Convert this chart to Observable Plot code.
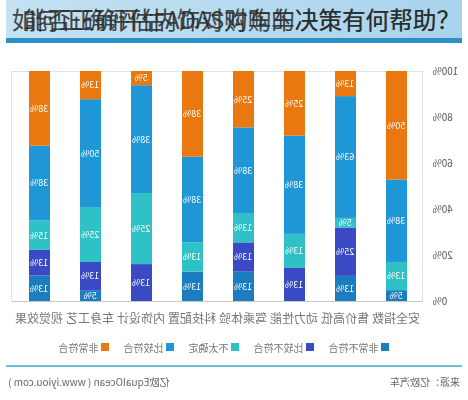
<!DOCTYPE html>
<html>
<head>
<meta charset="utf-8">
<script src="https://cdn.jsdelivr.net/npm/d3@7"></script>
<script src="https://cdn.jsdelivr.net/npm/@observablehq/plot@0.6"></script>
<style>
  body { margin:0; width:468px; height:400px; background:#fff; overflow:hidden;
         font-family:"Noto Sans CJK SC", sans-serif; }
  #title { position:relative; margin:0 6px; height:38px;
           background:linear-gradient(90deg,#c4e2f2,#b4d9ee 60%,#a9d3ec);
           border-bottom:5px solid #2b90c8; overflow:hidden; }
  #title span { position:absolute; top:4px; right:2px; font-size:23.6px; line-height:30px;
                color:#2a2a2a; white-space:nowrap; opacity:0.85; }
  #mirror { transform:scaleX(-1); width:468px; }
  #legend { height:36px; display:flex; justify-content:center; align-items:center;
            padding-left:20px; box-sizing:border-box; font-size:10px; color:#777; }
  #legend .item { display:flex; align-items:center; margin:0 7px; }
  #legend .sw { width:8px; height:8px; margin-right:3px; }
  #footer { margin:0 6px; border-top:2px solid #6dbfd8; height:28px; display:flex;
            justify-content:space-between; align-items:center; font-size:10px; color:#666; padding:0 2px; }
</style>
</head>
<body>
<div id="title"></div>
<div id="mirror">
  <div id="chart"></div>
  <div id="legend"></div>
  <div id="footer"><span id="src"></span><span id="brand"></span></div>
</div>
<script>
const titleA = "如何正确评估内饰对购车的决策有何帮助？";
const titleB = "能否正确评估ADAS对购车决策有何帮助？";
const categories = ["安全指数","售价高低","动力性能","驾乘体验","科技配置","内饰设计","车身工艺","视觉效果"];
const seriesNames = ["非常不符合","比较不符合","不太确定","比较符合","非常符合"];
const veryNo   = [5, 13, 0, 13, 13, 0, 5, 13];
const ratherNo = [0, 25, 13, 13, 0, 13, 13, 13];
const unsure   = [13, 5, 13, 13, 13, 25, 25, 15];
const ratherYes= [38, 63, 38, 38, 38, 38, 50, 38];
const veryYes  = [50, 13, 25, 25, 38, 5, 13, 38];
const seriesColors = ["#1b7dbf","#3a4ac4","#2ec2c6","#1f96d5","#e8780f"];
const yTicks = [0, 20, 40, 60, 80, 100];
const sourceText = "来源：亿欧汽车";
const brandText = "亿欧EqualOcean ( www.iyiou.com )";

const t = document.getElementById("title");
[titleA, titleB].forEach(s => {
  const sp = document.createElement("span"); sp.textContent = s; t.appendChild(sp);
});

const seriesValues = [veryNo, ratherNo, unsure, ratherYes, veryYes];
const data = [];
seriesNames.forEach((s, si) => categories.forEach((c, ci) =>
  data.push({category: c, series: s, value: seriesValues[si][ci]})));

const plot = Plot.plot({
  width: 468, height: 286,
  marginLeft: 45, marginRight: 12, marginTop: 28, marginBottom: 28,
  style: {fontFamily: "'Noto Sans CJK SC', sans-serif", background: "#fff"},
  x: {domain: categories, paddingInner: 0.58, paddingOuter: 0.28, label: null},
  y: {domain: [0, 1], label: null},
  color: {domain: seriesNames, range: seriesColors},
  marks: [
    Plot.frame({stroke: "#e2e2e2"}),
    Plot.barY(data, Plot.stackY({x: "category", y: "value", z: "series", fill: "series",
      offset: "normalize", order: seriesNames})),
    Plot.text(data, Plot.stackY({x: "category", y: "value", z: "series",
      offset: "normalize", order: seriesNames, filter: d => d.value > 0,
      text: d => d.value + "%", fill: "white", fontSize: 9})),
    Plot.ruleY([0], {stroke: "#c8c8c8"}),
    Plot.axisX({tickSize: 0, tickPadding: 13, fontSize: 12, color: "#777", label: null}),
    Plot.axisY({ticks: yTicks.map(v => v / 100), tickFormat: d => Math.round(d * 100) + "%",
      tickSize: 0, tickPadding: 10, fontSize: 10, color: "#555", label: null})
  ]
});
document.getElementById("chart").appendChild(plot);

const lg = document.getElementById("legend");
seriesNames.forEach((s, i) => {
  const it = document.createElement("div"); it.className = "item";
  const sw = document.createElement("div"); sw.className = "sw"; sw.style.background = seriesColors[i];
  const tx = document.createElement("span"); tx.textContent = s;
  it.appendChild(sw); it.appendChild(tx); lg.appendChild(it);
});
document.getElementById("src").textContent = sourceText;
document.getElementById("brand").textContent = brandText;
</script>
</body>
</html>
